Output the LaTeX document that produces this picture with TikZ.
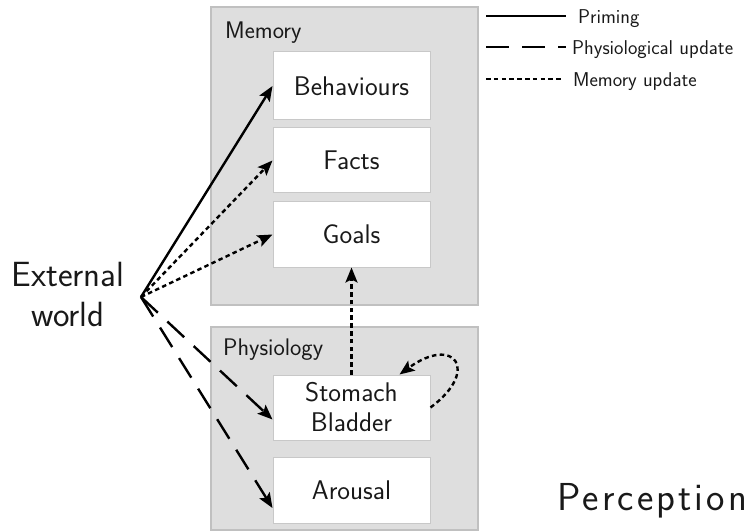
\documentclass[tikz,border=0pt]{standalone}
\usepackage{fontspec}
\usetikzlibrary{arrows.meta}
\newfontfamily\spacedsans[LetterSpace=8]{Latin Modern Sans}
\definecolor{groupfill}{RGB}{222,222,222}
\definecolor{groupedge}{RGB}{192,192,192}
\definecolor{boxedge}{RGB}{200,200,200}
\definecolor{ink}{RGB}{25,25,25}
\begin{document}
\begin{tikzpicture}[x=1pt,y=-1pt,
  group/.style={draw=groupedge, fill=groupfill, line width=1.2pt, inner sep=0pt},
  box/.style={draw=boxedge, fill=white, line width=1pt, minimum width=157pt,
    inner sep=0pt, align=center, text=ink,
    font=\sffamily\fontsize{27}{30}\selectfont},
  grouplabel/.style={anchor=base west, inner sep=0pt, text=ink,
    font=\sffamily\fontsize{24}{27}\selectfont},
  legendtext/.style={anchor=base west, inner sep=0pt, text=ink,
    font=\sffamily\fontsize{20}{24}\selectfont},
  link/.style={-{Stealth[length=15pt,width=12pt,inset=3pt]}},
  primeline/.style={draw=black, line width=2.4pt},
  physline/.style={draw=black, line width=2.4pt, dash pattern=on 23pt off 13pt},
  memline/.style={draw=black, line width=2.4pt, dash pattern=on 4.5pt off 3.3pt},
]
\useasboundingbox (0,0) rectangle (753,532);

% containers
\node[group, minimum width=267pt, minimum height=298pt] (memory) at (344.5,156) {};
\node[group, minimum width=267pt, minimum height=203pt] (physiology) at (344.5,428.5) {};
\node[grouplabel] (memlabel) at (225,39) {Memory};
\node[grouplabel] (physlabel) at (223,355) {Physiology};

% memory contents
\node[box, minimum height=68pt] (behav) at (351.5,86) {Behaviours};
\node[box, minimum height=65pt] (facts) at (351.5,160.5) {Facts};
\node[box, minimum height=65pt] (goals) at (351.5,234.5) {Goals};

% physiology contents
\node[box, minimum height=65pt] (stomach) at (351.5,407.5) {Stomach\\Bladder};
\node[box, minimum height=66pt] (arousal) at (351.5,490) {Arousal};

% the outside world
\node[inner sep=0pt, align=center, text=ink,
  font=\sffamily\fontsize{35}{40}\selectfont] (world) at (68,294) {External\\world};
\coordinate (src) at (141,297);

\node[anchor=base west, inner sep=0pt, text=ink,
  font=\spacedsans\fontsize{39}{44}\selectfont] (percept) at (557,510) {Perception};

% connections
\draw[link, primeline] (src) -- (behav.west);
\draw[link, memline] (src) -- (facts.west);
\draw[link, memline] (src) -- (goals.west);
\draw[link, physline] (src) -- ([yshift=-12pt]stomach.west);
\draw[link, physline] (src) -- ([yshift=-18pt]arousal.west);
\draw[link, memline] (stomach.north) -- (goals.south);
\draw[link, memline] (stomach.east) .. controls +(50,-37) and +(55,-40) .. ([xshift=48pt]stomach.north);

% legend
\coordinate (k1a) at (486,16); \coordinate (k1b) at (566,16);
\coordinate (k2a) at (486,47); \coordinate (k2b) at (566,47);
\coordinate (k3a) at (486,79); \coordinate (k3b) at (562,79);
\draw[primeline] (k1a) -- (k1b);
\draw[physline] (k2a) -- (k2b);
\draw[memline] (k3a) -- (k3b);
\node[legendtext] (k1) at (578,24) {Priming};
\node[legendtext] (k2) at (572,55) {Physiological update};
\node[legendtext] (k3) at (573,87) {Memory update};
\end{tikzpicture}
\end{document}
